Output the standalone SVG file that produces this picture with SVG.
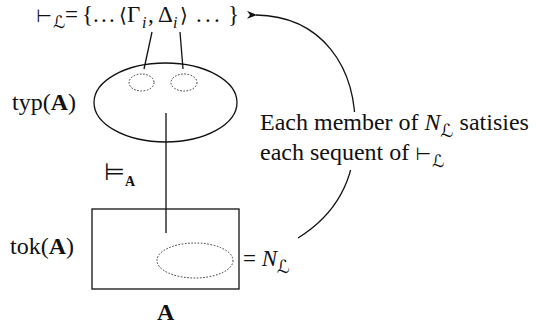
<svg xmlns="http://www.w3.org/2000/svg" width="537" height="330" viewBox="0 0 537 330">
<style>
.t{font-family:"Liberation Serif","DejaVu Serif","DejaVu Sans",serif;fill:#111;}
.m{font-size:23px;}
.sym{font-family:"DejaVu Sans","DejaVu Serif",serif;}
.it{font-style:italic;}
.b{font-weight:bold;}
.ln{fill:none;stroke:#111;stroke-width:1.3;}
.dot{fill:none;stroke:#333;stroke-width:1;stroke-dasharray:1.6 1.6;}
</style>
<defs>
<marker id="ah" viewBox="0 0 10 8" refX="1" refY="4" markerWidth="10" markerHeight="8" markerUnits="userSpaceOnUse" orient="auto-start-reverse">
<path d="M0,4 L10,0 L7,4 L10,8 Z" fill="#111"/>
</marker>
</defs>
<rect width="537" height="330" fill="#fff"/>

<g id="connectors">
<line class="ln" x1="152" y1="32" x2="144" y2="69"/>
<line class="ln" x1="180" y1="32" x2="183" y2="69"/>
<line class="ln" x1="166" y1="113" x2="166" y2="233"/>
<path class="ln" d="M298,238 C335,215 355,180 355,135 C358,65 320,16 256,15" marker-end="url(#ah)"/>
</g>

<g id="sequents">
<text class="t m" y="22"><tspan class="sym" x="36" font-size="18">⊢</tspan><tspan class="sym it" x="53" y="28" font-size="17">ℒ</tspan><tspan x="65" y="22">=</tspan><tspan x="82">{</tspan><tspan x="93">.</tspan><tspan x="101">.</tspan><tspan x="109">.</tspan><tspan class="sym" x="119" font-size="20">⟨</tspan><tspan x="127">Γ</tspan><tspan class="it" x="142" y="28" font-size="16">i</tspan><tspan x="148" y="22">,</tspan><tspan x="158">Δ</tspan><tspan class="it" x="173" y="28" font-size="16">i</tspan><tspan class="sym" x="180" y="22" font-size="20">⟩</tspan><tspan x="196">.</tspan><tspan x="205">.</tspan><tspan x="214">.</tspan><tspan x="228">}</tspan></text>
</g>

<g id="typA">
<ellipse class="ln" cx="165.5" cy="102.5" rx="71.5" ry="39.5"/>
<ellipse class="dot" cx="141.5" cy="82.5" rx="12.5" ry="8.5"/>
<ellipse class="dot" cx="184" cy="82.5" rx="13" ry="8.5"/>
<text class="t" x="12" y="110" font-size="24">typ(<tspan class="b">A</tspan>)</text>
</g>

<g id="models">
<text class="t" x="104" y="180" font-size="24"><tspan class="sym">⊨</tspan><tspan class="b" y="186" font-size="14">A</tspan></text>
</g>

<g id="tokA">
<rect class="ln" x="92" y="209" width="147" height="80"/>
<ellipse class="dot" cx="195" cy="260.5" rx="38" ry="17.5"/>
<text class="t" x="10" y="254" font-size="24">tok(<tspan class="b">A</tspan>)</text>
<text class="t b" x="157" y="320" font-size="24">A</text>
</g>

<g id="NL">
<text class="t" x="243" y="266" font-size="23">= <tspan class="it">N</tspan><tspan class="sym it" y="273" font-size="18">ℒ</tspan></text>
</g>

<g id="note">
<rect x="258" y="112" width="279" height="58" fill="#fff"/>
<text class="t" x="260" y="130" font-size="24">Each member of <tspan class="it">N</tspan><tspan class="sym it" y="137" font-size="18">ℒ</tspan><tspan y="130"> satisies</tspan></text>
<text class="t" x="260" y="160" font-size="24">each sequent of <tspan class="sym" font-size="18">⊢</tspan><tspan class="sym it" dx="1" y="167" font-size="17">ℒ</tspan></text>
</g>
</svg>
